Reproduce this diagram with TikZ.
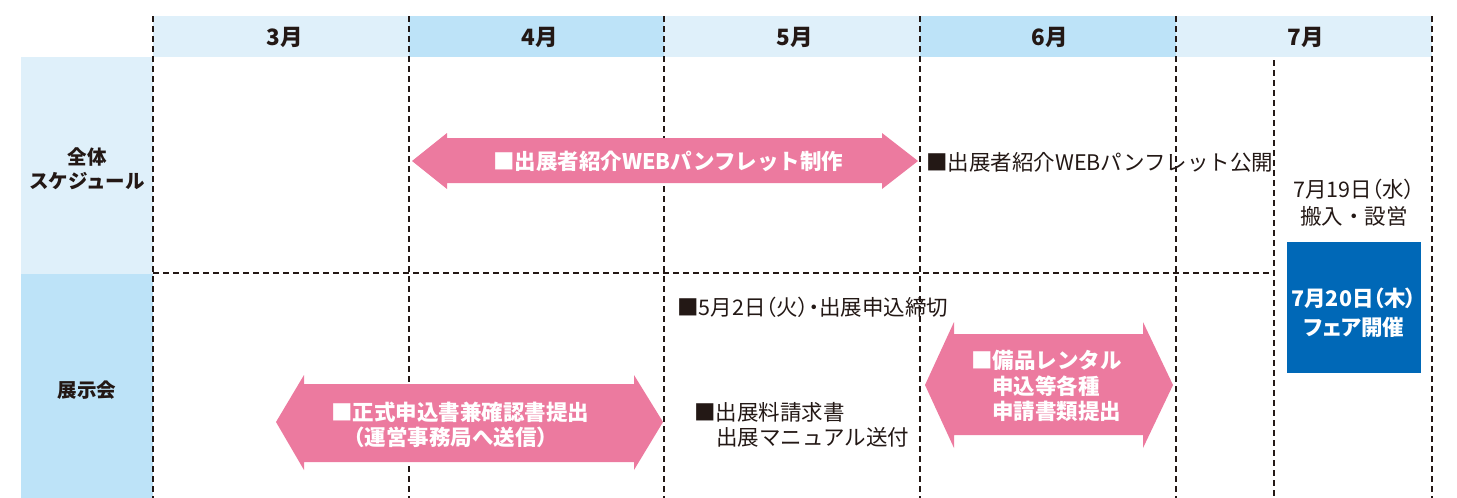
\documentclass[tikz,border=0pt]{standalone}
\usepackage{fontspec}
\setmainfont{Noto Sans CJK JP}
\newfontfamily\paltfont{Noto Sans CJK JP}[RawFeature=+palt]
\definecolor{ink}{HTML}{231815}
\definecolor{paleblue}{HTML}{DFF0FA}
\definecolor{midblue}{HTML}{BDE3F8}
\definecolor{rose}{HTML}{EC7A9F}
\definecolor{deepblue}{HTML}{0068B7}
\begin{document}
\begin{tikzpicture}[x=1pt,y=-1pt,
  font=\fontsize{21.5}{25}\selectfont,
  gridline/.style={draw=ink,line width=1.8pt,dash pattern=on 5.5pt off 4.5pt},
  lbl/.style={text=ink,inner sep=0pt},
  lblw/.style={lbl,anchor=west},
  hdr/.style={text=ink,inner sep=0pt,font=\fontsize{22.5}{26}\selectfont\bfseries},
  rowlbl/.style={text=ink,inner sep=0pt,font=\fontsize{19.5}{23}\selectfont\bfseries},
  wlbl/.style={text=white,inner sep=0pt,anchor=west,font=\fontsize{21.5}{25}\selectfont\bfseries},
  boxlbl/.style={text=white,inner sep=0pt,font=\fontsize{21.5}{25}\selectfont\paltfont\bfseries},
  rosearrow/.style={fill=rose}]
\useasboundingbox (0,0) rectangle (1457,498);
% header cells
\fill[paleblue] (153,16) rectangle (409,57);
\fill[midblue] (409,16) rectangle (664,57);
\fill[paleblue] (664,16) rectangle (920,57);
\fill[midblue] (920,16) rectangle (1176,57);
\fill[paleblue] (1176,16) rectangle (1432,57);
% row cells
\fill[paleblue] (21,57) rectangle (153,274);
\fill[midblue] (21,274) rectangle (153,498);
% grid
\foreach \gx in {153,409,664,920,1176,1432}{\draw[gridline] (\gx,16) -- (\gx,498);}
\draw[gridline] (1274,60) -- (1274,498);
\draw[gridline] (153,273) -- (1274,273);
% month labels
\node[hdr] (m3) at (285,37) {3月};
\node[hdr] (m4) at (540,37) {4月};
\node[hdr] (m5) at (795,37) {5月};
\node[hdr] (m6) at (1050,37) {6月};
\node[hdr] (m7) at (1306,37) {7月};
% row labels
\node[rowlbl] (r1a) at (87,157) {全体};
\node[rowlbl] (r1b) at (87,181) {スケジュール};
\node[rowlbl] (r2) at (87,390) {展示会};
% arrow 1
\fill[rosearrow] (412,161) -- (447,133) -- (447,138) -- (882,138) -- (882,133) -- (918,161)
  -- (882,189) -- (882,183) -- (447,183) -- (447,189) -- cycle;
\node[wlbl] (a1) at (493,161) {■出展者紹介WEBパンフレット制作};
% arrow 2
\fill[rosearrow] (276,422) -- (304,375) -- (304,384) -- (634,384) -- (634,375) -- (663,422)
  -- (634,470) -- (634,462) -- (304,462) -- (304,470) -- cycle;
\node[wlbl] (a2a) at (331,412) {■正式申込書兼確認書提出};
\node[wlbl] (a2b) at (343,437) {（運営事務局へ送信）};
% arrow 3
\fill[rosearrow] (925,385) -- (954,322) -- (954,334) -- (1143,334) -- (1143,322) -- (1173,385)
  -- (1143,448) -- (1143,435) -- (954,435) -- (954,448) -- cycle;
\node[wlbl] (a3a) at (971,360) {■備品レンタル};
\node[wlbl] (a3b) at (992,386) {申込等各種};
\node[wlbl] (a3c) at (992,411) {申請書類提出};
% plain labels
\node[lblw] (pub) at (926,162) {■出展者紹介WEBパンフレット公開};
\node[lbl,font=\fontsize{21.5}{25}\selectfont\paltfont] (d19a) at (1354,189) {7月19日（水）};
\node[lbl] (d19b) at (1354,216) {搬入・設営};
\node[lblw,font=\fontsize{21.5}{25}\selectfont\paltfont] (dl) at (677,307) {■5月2日（火）・出展申込締切};
\node[lblw] (inv1) at (694,412) {■出展料請求書};
\node[lblw] (inv2) at (716,437) {出展マニュアル送付};
% fair box
\fill[deepblue] (1287,242) rectangle (1421,373);
\node[boxlbl] (f1) at (1354,298) {7月20日（木）};
\node[boxlbl] (f2) at (1354,327) {フェア開催};
\end{tikzpicture}
\end{document}
